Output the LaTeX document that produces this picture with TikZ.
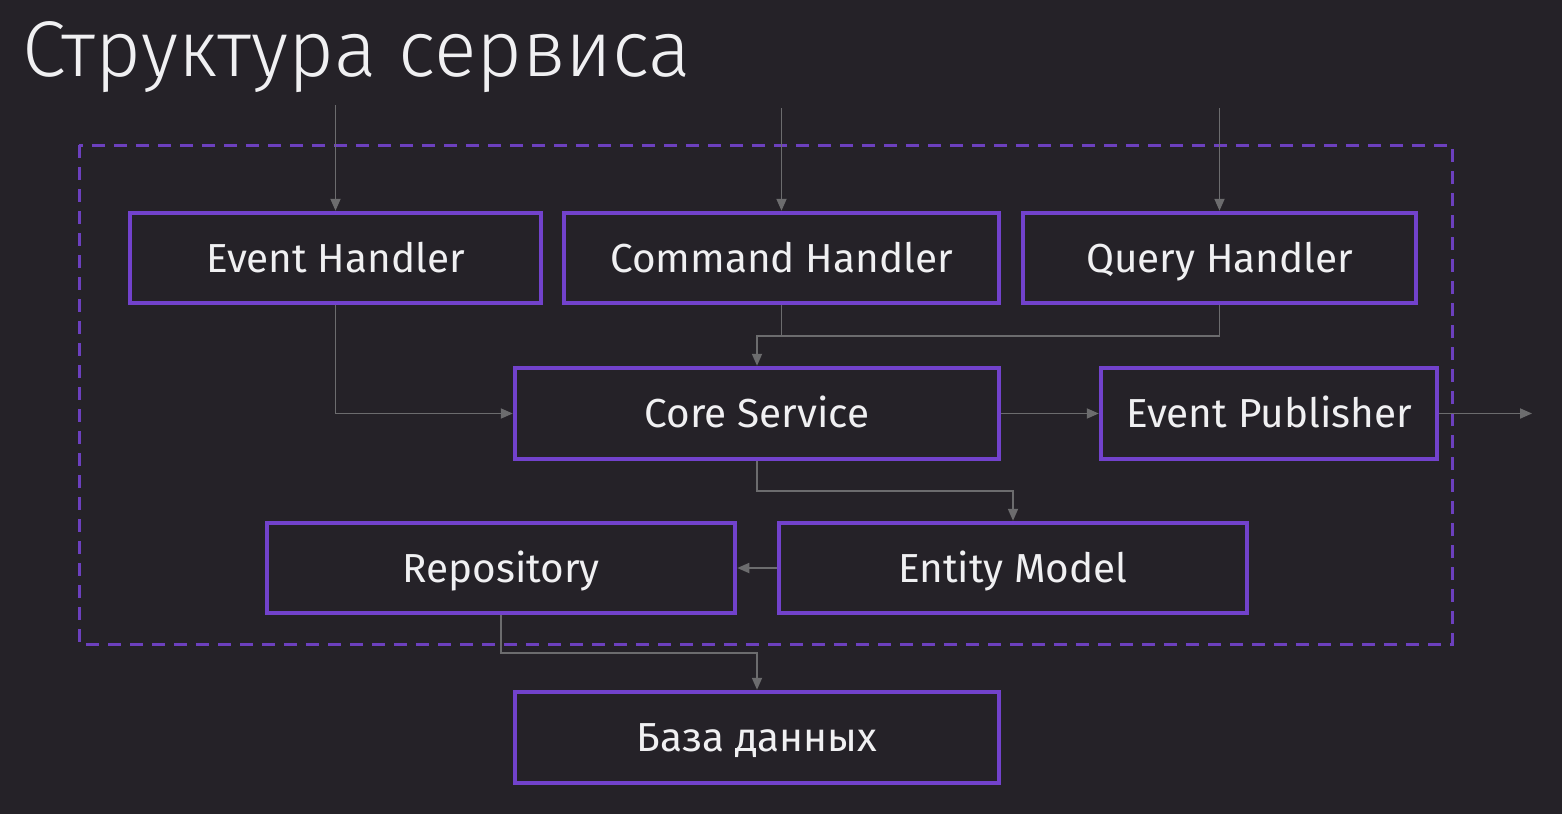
\documentclass[tikz,border=0pt]{standalone}
\usepackage{fontspec}
\setmainfont{Fira Sans}
\newfontfamily\titlefont{Fira Sans Light}
\usetikzlibrary{arrows.meta}
\definecolor{bgc}{RGB}{37,34,40}
\definecolor{purp}{RGB}{114,66,204}
\definecolor{framec}{RGB}{108,64,190}
\definecolor{linec}{RGB}{108,108,110}
\definecolor{txtc}{RGB}{240,240,242}
\tikzset{
  box/.style={draw=purp, line width=4.5pt, fill=bgc, inner sep=0pt, text=txtc,
    font=\fontsize{40.5}{40.5}\selectfont, text height=28pt, text depth=0pt, minimum height=90pt},
  conn/.style={draw=linec, line width=1.8pt, -{Triangle[length=12pt,width=10pt]}},
  plain/.style={draw=linec, line width=1.8pt},
  frame/.style={draw=framec, line width=3pt, dash pattern=on 13pt off 9pt},
}
\begin{document}
\begin{tikzpicture}[x=1pt,y=-1pt]
\fill[bgc] (0,0) rectangle (1562,814);
\useasboundingbox (0,0) rectangle (1562,814);
\node[anchor=base west, text=txtc, inner sep=0pt, font=\titlefont\fontsize{79}{79}\selectfont] (title) at (22,76) {Структура сервиса};
\draw[frame] (79,145) rectangle (1452,644);
\node[box, minimum width=411pt] (eh) at (335.5,258) {Event Handler};
\node[box, minimum width=435pt] (ch) at (781.5,258) {Command Handler};
\node[box, minimum width=393pt] (qh) at (1219.5,258) {Query Handler};
\node[box, minimum width=484pt, minimum height=91pt] (cs) at (757,413.5) {Core Service};
\node[box, minimum width=336pt, minimum height=91pt] (ep) at (1269,413.5) {Event Publisher};
\node[box, minimum width=468pt] (repo) at (501,568) {Repository};
\node[box, minimum width=468pt] (em) at (1013,568) {Entity Model};
\node[box, minimum width=484pt, minimum height=91pt] (db) at (757,737.5) {База данных};
\coordinate (in1) at (335.5,105);
\coordinate (in2) at (781.5,108);
\coordinate (in3) at (1219.5,108);
\coordinate (out) at (1532,413.5);
\coordinate (j1) at (757,336);
\draw[conn] (in1) -- (eh.north);
\draw[conn] (in2) -- (ch.north);
\draw[conn] (in3) -- (qh.north);
\draw[conn] (ch.south) |- (j1) -- (cs.north);
\draw[plain] (qh.south) |- (ch.south |- j1);
\draw[conn] (eh.south) |- (cs.west);
\draw[conn] (cs.east) -- (ep.west);
\draw[conn] (ep.east) -- (out);
\draw[conn] (cs.south) -- ++(0,30) -| (em.north);
\draw[conn] (em.west) -- (repo.east);
\draw[conn] (repo.south) -- ++(0,38) -| (db.north);
\end{tikzpicture}
\end{document}
